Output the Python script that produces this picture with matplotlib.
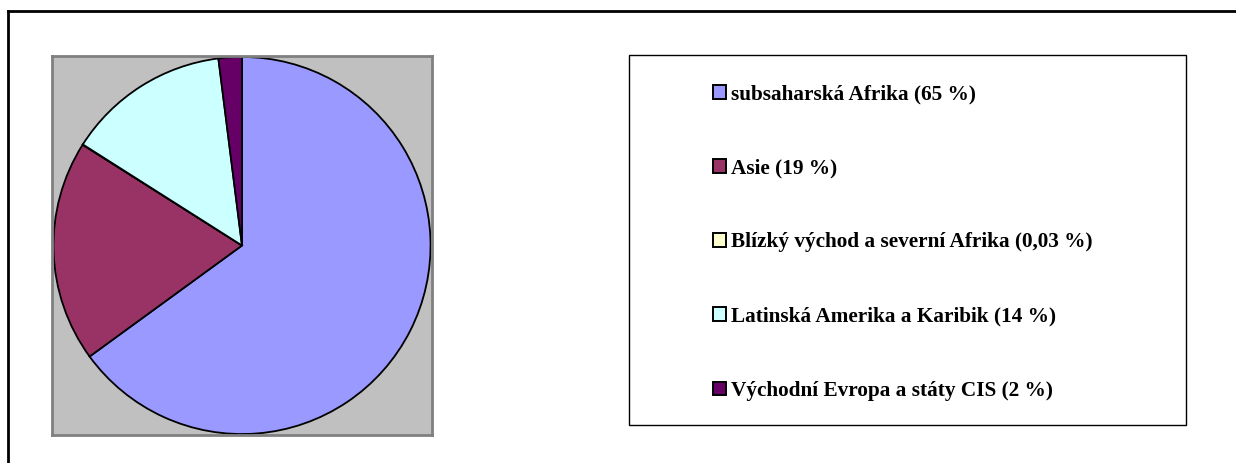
import matplotlib
matplotlib.use("Agg")
import matplotlib.pyplot as plt
from matplotlib.patches import Rectangle
from matplotlib.lines import Line2D

regions = ["subsaharská Afrika", "Asie", "Blízký východ a severní Afrika",
           "Latinská Amerika a Karibik", "Východní Evropa a státy CIS"]
shares = [65, 19, 0.03, 14, 2]
share_labels = ["65", "19", "0,03", "14", "2"]
colors = ["#9999FF", "#993366", "#FFFFCC", "#CCFFFF", "#660066"]

W, H = 1236, 463
fig = plt.figure(figsize=(W / 100, H / 100), dpi=100)

def box(x0, y0, x1, y1):
    # pixel box (top-left origin) -> figure fraction rect
    return [x0 / W, (H - y1) / H, (x1 - x0) / W, (y1 - y0) / H]

# outer frame (only top and left edges visible)
fig.add_artist(Line2D([8 / W, 8 / W], [0, (H - 11) / H], color="black", lw=2))
fig.add_artist(Line2D([8 / W, 1], [(H - 11) / H, (H - 11) / H], color="black", lw=2))

ax = fig.add_axes(box(52, 56, 432, 435))
ax.set_facecolor("#C0C0C0")
for sp in ax.spines.values():
    sp.set_color("#808080")
    sp.set_linewidth(2)
wedges, _ = ax.pie(shares, colors=colors, startangle=90, counterclock=False,
                   radius=0.995,
                   wedgeprops=dict(edgecolor="black", linewidth=1.3))
ax.set_xlim(-1, 1)
ax.set_ylim(-1, 1)
ax.set_xticks([])
ax.set_yticks([])
ax.set_frame_on(True)

# legend frame
r = box(629, 55, 1186, 425)
fig.add_artist(Rectangle((r[0], r[1]), r[2], r[3], transform=fig.transFigure,
                         facecolor="white", edgecolor="black", lw=1))

labels = [f"{n} ({s} %)" for n, s in zip(regions, share_labels)]
leg = fig.legend(wedges, labels, loc="upper left",
                 bbox_to_anchor=(694 / W, (H - 65) / H),
                 frameon=False, handlelength=0.62, handleheight=0.62,
                 handletextpad=0.2, labelspacing=2.55,
                 prop=dict(family="Liberation Serif", size=15.3, weight="bold"))
for h in leg.legend_handles:
    h.set_edgecolor("black")
    h.set_linewidth(1.4)

fig.savefig("out.png", dpi=100)
